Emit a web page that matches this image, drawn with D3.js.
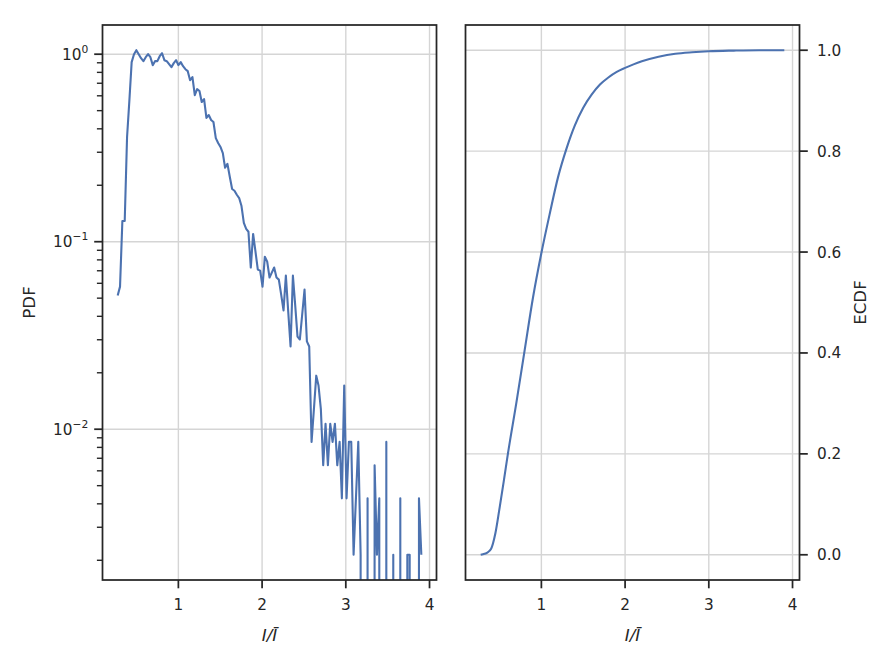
<!DOCTYPE html>
<html><head><meta charset="utf-8">
<script src="https://cdn.jsdelivr.net/npm/d3@7"></script>
<style>
body{margin:0;background:#fff}
text{font-family:"DejaVu Sans",sans-serif;fill:#262626}
</style>
</head><body>
<svg id="c" width="889" height="667" xmlns="http://www.w3.org/2000/svg"></svg>
<script>
// ---- data ----
const binCenters = [0.275,0.303,0.331,0.359,0.387,0.415,0.442,0.470,0.498,0.526,
0.554,0.582,0.610,0.638,0.666,0.694,0.721,0.749,0.777,0.805,
0.833,0.861,0.889,0.917,0.945,0.973,1.000,1.028,1.056,1.084,
1.112,1.140,1.168,1.196,1.224,1.252,1.279,1.307,1.335,1.363,
1.391,1.419,1.447,1.475,1.503,1.531,1.558,1.586,1.614,1.642,
1.670,1.698,1.726,1.754,1.782,1.810,1.837,1.865,1.893,1.921,
1.949,1.977,2.005,2.033,2.061,2.089,2.116,2.144,2.172,2.200,
2.228,2.256,2.284,2.312,2.340,2.368,2.395,2.423,2.451,2.479,
2.507,2.535,2.563,2.591,2.619,2.647,2.674,2.702,2.730,2.758,
2.786,2.814,2.842,2.870,2.898,2.926,2.953,2.981,3.009,3.037,
3.065,3.093,3.121,3.149,3.177,3.205,3.232,3.260,3.288,3.316,
3.344,3.372,3.400,3.428,3.456,3.484,3.511,3.539,3.567,3.595,
3.623,3.651,3.679,3.707,3.735,3.763,3.790,3.818,3.846,3.874,3.902];

const pdfValues = [0.0516,0.0576,0.129,0.129,0.362,0.569,0.907,1.0,1.05,1.0,
0.952,0.918,0.964,1.0,0.964,0.874,0.918,0.918,0.976,1.012,
0.929,0.918,0.885,0.853,0.896,0.929,0.874,0.907,0.863,0.832,
0.812,0.727,0.755,0.605,0.651,0.636,0.556,0.576,0.457,0.474,
0.446,0.435,0.357,0.336,0.320,0.297,0.248,0.260,0.222,0.191,
0.187,0.178,0.171,0.155,0.126,0.117,0.113,0.0728,0.110,0.0885,
0.0710,0.0701,0.0576,0.0832,0.0783,0.0644,0.0684,0.0728,0.0644,0.0628,
0.0522,0.0430,0.0659,0.0425,0.0276,0.0659,0.0462,0.0312,0.0301,0.0409,
0.0555,0.0294,0.0276,0.00856,0.0128,0.0193,0.0171,0.0128,0.00642,0.0107,
0.00642,0.0107,0.00856,0.0107,0.00642,0.00856,0.00428,0.0171,0.00428,0.00856,
0.00856,0.00214,0.00428,0.00856,0.00214,0,0,0.00428,0,0,
0.00642,0.00214,0.00428,0,0,0.00856,0,0,0.00214,0,
0,0.00428,0,0,0.00214,0.00214,0,0,0,0.00428,0.00214];

const ecdfX = [0.275,0.30,0.35,0.40,0.45,0.50,0.55,0.60,0.70,0.80,0.90,1.00,1.10,1.20,1.30,1.40,1.50,1.60,1.70,1.80,1.90,2.00,2.10,2.20,2.40,2.60,2.80,3.00,3.30,3.60,3.902];
const ecdfY = [0.0,0.001,0.004,0.012,0.042,0.092,0.145,0.20,0.30,0.405,0.51,0.598,0.676,0.749,0.805,0.851,0.886,0.912,0.932,0.946,0.957,0.965,0.972,0.978,0.987,0.993,0.996,0.998,0.9993,1.0,1.0];

const xTicks = [1,2,3,4];
const ecdfTicks = [0.0,0.2,0.4,0.6,0.8,1.0];
const pdfMajorTicks = [1,0.1,0.01];
const pdfTickExp = ["0","\u22121","\u22122"];
const xLabel = "I/\u012A";

// ---- layout ----
const svg = d3.select("#c");
const yTop = 25, yBot = 580;
const leftBox = {x0:102.5, x1:436.5};
const rightBox = {x0:465.5, x1:799.5};
const blue = "#4c72b0", ink = "#262626", gridC = "#d5d5d5";
const majorLen = 8.3, minorLen = 5.6, pad = 4.9, tickFS = 15.3, labFS = 16.7;

function margin(lo, hi){ const s = hi - lo; return [lo - 0.05*s, hi + 0.05*s]; }
const xDom = margin(d3.min(binCenters), d3.max(binCenters));
const pos = pdfValues.filter(v => v > 0);
const ld = margin(Math.log10(d3.min(pos)), Math.log10(d3.max(pos)));

const xL = d3.scaleLinear().domain(xDom).range([leftBox.x0, leftBox.x1]);
const xR = d3.scaleLinear().domain(xDom).range([rightBox.x0, rightBox.x1]);
const yL = d3.scaleLog().domain([10**ld[0], 10**ld[1]]).range([yBot, yTop]);
const yR = d3.scaleLinear().domain([-0.05, 1.05]).range([yBot, yTop]);

const defs = svg.append("defs");
defs.append("clipPath").attr("id","clipL").append("rect")
  .attr("x",leftBox.x0).attr("y",yTop).attr("width",leftBox.x1-leftBox.x0).attr("height",yBot-yTop);
defs.append("clipPath").attr("id","clipR").append("rect")
  .attr("x",rightBox.x0).attr("y",yTop).attr("width",rightBox.x1-rightBox.x0).attr("height",yBot-yTop);

// ---- grids ----
const gL = svg.append("g");
gL.selectAll("line.vx").data(xTicks).join("line")
  .attr("x1",d=>xL(d)).attr("x2",d=>xL(d)).attr("y1",yTop).attr("y2",yBot)
  .attr("stroke",gridC).attr("stroke-width",1.4);
gL.selectAll("line.hy").data(pdfMajorTicks).join("line")
  .attr("x1",leftBox.x0).attr("x2",leftBox.x1).attr("y1",d=>yL(d)).attr("y2",d=>yL(d))
  .attr("stroke",gridC).attr("stroke-width",1.4);
const gR = svg.append("g");
gR.selectAll("line.vx").data(xTicks).join("line")
  .attr("x1",d=>xR(d)).attr("x2",d=>xR(d)).attr("y1",yTop).attr("y2",yBot)
  .attr("stroke",gridC).attr("stroke-width",1.4);
gR.selectAll("line.hy").data(ecdfTicks).join("line")
  .attr("x1",rightBox.x0).attr("x2",rightBox.x1).attr("y1",d=>yR(d)).attr("y2",d=>yR(d))
  .attr("stroke",gridC).attr("stroke-width",1.4);

// ---- lines ----
const pdfPts = binCenters.map((x,i)=>[x, pdfValues[i]]);
const lineL = d3.line().x(d=>xL(d[0])).y(d=>{
  // zero densities are clipped far below the axes, like matplotlib's log clipping
  return d[1] > 0 ? yL(d[1]) : yBot + 20000;
});
svg.append("path").attr("clip-path","url(#clipL)")
  .attr("d", lineL(pdfPts)).attr("fill","none").attr("stroke",blue)
  .attr("stroke-width",2.1).attr("stroke-linejoin","round").attr("stroke-linecap","butt");

const ecdfPts = ecdfX.map((x,i)=>[x, ecdfY[i]]);
const lineR = d3.line().x(d=>xR(d[0])).y(d=>yR(d[1])).curve(d3.curveMonotoneX);
svg.append("path").attr("clip-path","url(#clipR)")
  .attr("d", lineR(ecdfPts)).attr("fill","none").attr("stroke",blue)
  .attr("stroke-width",2.1).attr("stroke-linejoin","round");

// ---- frames ----
[leftBox, rightBox].forEach(b=>{
  svg.append("rect").attr("x",b.x0).attr("y",yTop).attr("width",b.x1-b.x0).attr("height",yBot-yTop)
    .attr("fill","none").attr("stroke",ink).attr("stroke-width",1.75);
});

// ---- x axes ----
function xAxis(sc){
  const g = svg.append("g");
  g.selectAll("line").data(xTicks).join("line")
    .attr("x1",d=>sc(d)).attr("x2",d=>sc(d)).attr("y1",yBot).attr("y2",yBot+majorLen)
    .attr("stroke",ink).attr("stroke-width",1.75);
  g.selectAll("text").data(xTicks).join("text")
    .attr("x",d=>sc(d)).attr("y",610)
    .attr("text-anchor","middle").attr("font-size",tickFS).text(d=>d3.format("d")(d));
  const r = sc.range();
  svg.append("text").attr("x",(r[0]+r[1])/2).attr("y",641)
    .attr("text-anchor","middle").attr("font-size",labFS).attr("font-style","italic").text(xLabel);
}
xAxis(xL); xAxis(xR);

// ---- left log y axis ----
const gy = svg.append("g");
const minorTicks = [];
for (let e = -3; e <= 0; e++) for (let m = 2; m <= 9; m++) {
  const v = m * 10**e;
  if (v >= yL.domain()[0] && v <= yL.domain()[1]) minorTicks.push(v);
}
gy.selectAll("line.mn").data(minorTicks).join("line")
  .attr("x1",leftBox.x0-minorLen).attr("x2",leftBox.x0).attr("y1",d=>yL(d)).attr("y2",d=>yL(d))
  .attr("stroke",ink).attr("stroke-width",1.4);
gy.selectAll("line.mj").data(pdfMajorTicks).join("line")
  .attr("x1",leftBox.x0-majorLen).attr("x2",leftBox.x0).attr("y1",d=>yL(d)).attr("y2",d=>yL(d))
  .attr("stroke",ink).attr("stroke-width",1.75);
pdfMajorTicks.forEach((v,i)=>{
  const t = gy.append("text").attr("x",leftBox.x0-majorLen-pad-1).attr("y",yL(v)+5.5)
    .attr("text-anchor","end").attr("font-size",tickFS);
  t.append("tspan").text("10");
  t.append("tspan").attr("dy",-7).attr("font-size",tickFS*0.7).text(pdfTickExp[i]);
});
svg.append("text").attr("transform",`translate(35,${(yTop+yBot)/2}) rotate(-90)`)
  .attr("text-anchor","middle").attr("font-size",labFS).text("PDF");

// ---- right linear y axis (ticks on right) ----
const gy2 = svg.append("g");
gy2.selectAll("line").data(ecdfTicks).join("line")
  .attr("x1",rightBox.x1).attr("x2",rightBox.x1+majorLen).attr("y1",d=>yR(d)).attr("y2",d=>yR(d))
  .attr("stroke",ink).attr("stroke-width",1.75);
gy2.selectAll("text").data(ecdfTicks).join("text")
  .attr("x",817).attr("y",d=>yR(d)+5.5)
  .attr("text-anchor","start").attr("font-size",tickFS).text(d=>d3.format(".1f")(d));
svg.append("text").attr("transform",`translate(866,${(yTop+yBot)/2}) rotate(-90)`)
  .attr("text-anchor","middle").attr("font-size",labFS).text("ECDF");
</script>
</body></html>
